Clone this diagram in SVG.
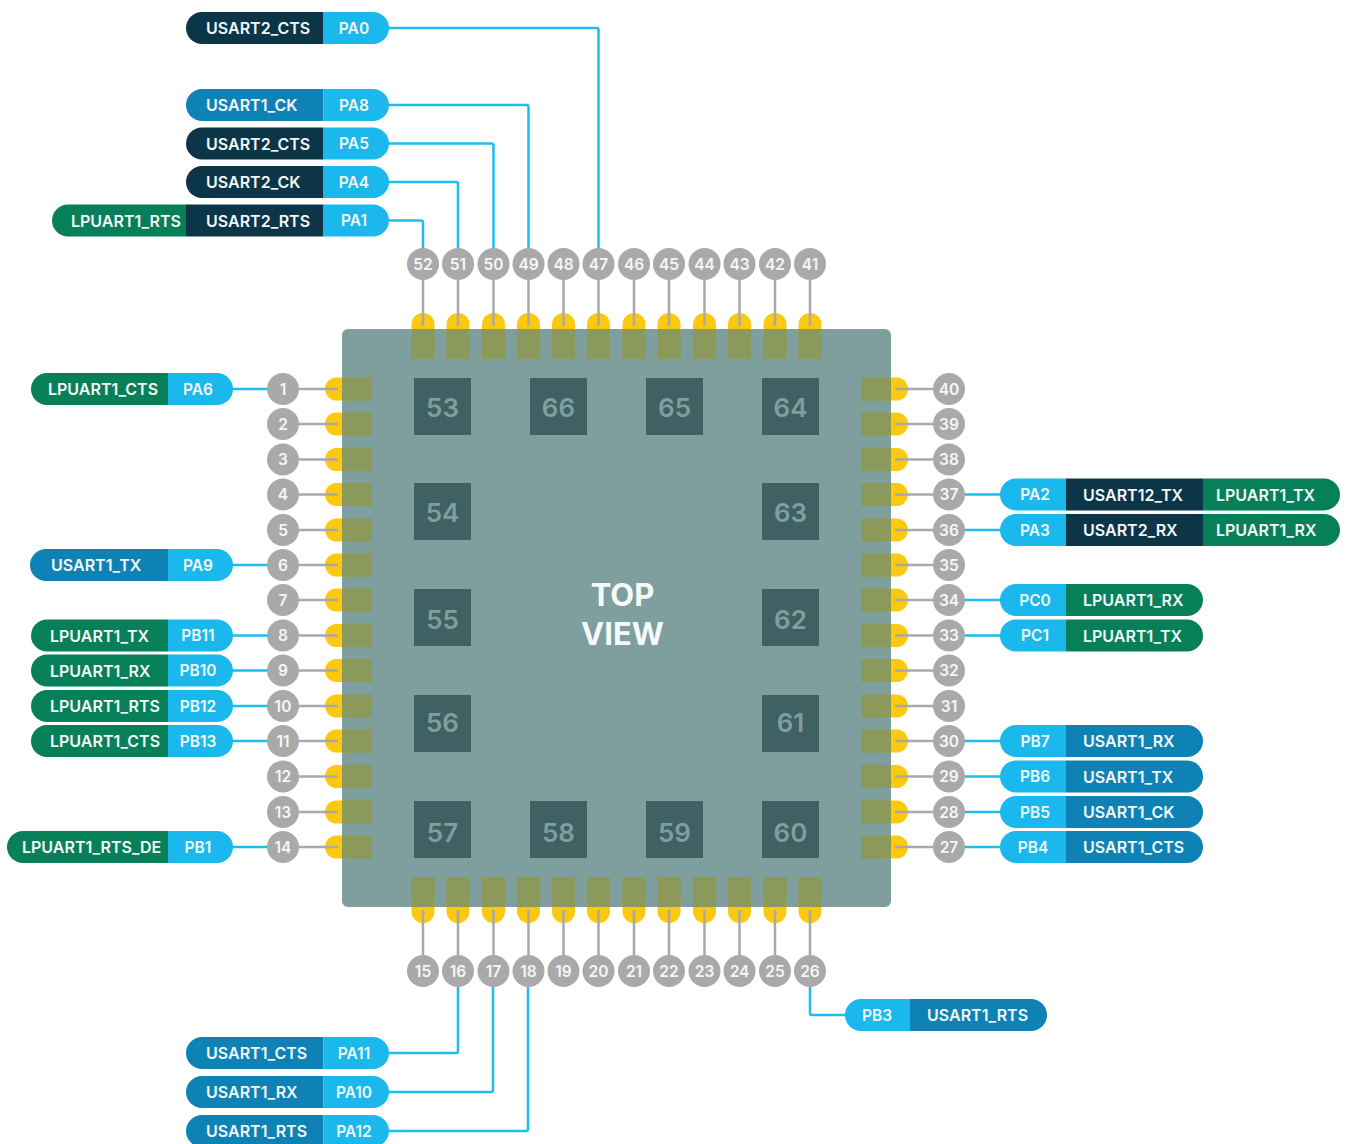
<svg xmlns="http://www.w3.org/2000/svg" width="1348" height="1144" viewBox="0 0 1348 1144">
<style>
text{font-family:Inter,"Noto Sans","Liberation Sans",sans-serif;dominant-baseline:central}
.pin{fill:#a9a9a9}
.n{fill:#f6f6f6;font-size:15.5px;font-weight:600;text-anchor:middle}
.t{fill:#f2f8f8;font-size:16px;font-weight:600}
.p{fill:#f2f8f8;font-size:15.5px;font-weight:600;text-anchor:middle}
.c{fill:#1ab8ec}.d{fill:#0c3547}.g{fill:#078059}.m{fill:#0f82b5}
.y{fill:#fdc90e}.o{fill:#8b9a5a}
.sq{fill:#3f6164}
.sn{fill:#7f9f9f;font-size:26px;font-weight:600;text-anchor:middle}
.tv{fill:#f6fafa;font-size:31px;font-weight:700;text-anchor:middle}
.gl{fill:none;stroke:#a9a9a9;stroke-width:2.5}
.bl{fill:none;stroke:#1dbdee;stroke-width:2.5;stroke-linejoin:round}
</style>
<defs>
<g id="pT"><rect class="y" x="-11.5" y="313" width="23" height="32" rx="11.5"/><rect class="o" x="-11.75" y="329" width="23.5" height="30"/></g>
<g id="pB"><rect class="y" x="-11.5" y="891" width="23" height="32" rx="11.5"/><rect class="o" x="-11.75" y="877" width="23.5" height="30"/></g>
<g id="pL"><rect class="y" x="325" y="-11.5" width="32" height="23" rx="11.5"/><rect class="o" x="342" y="-11.75" width="30" height="23.5"/></g>
<g id="pR"><rect class="y" x="876" y="-11.5" width="32" height="23" rx="11.5"/><rect class="o" x="861" y="-11.75" width="30" height="23.5"/></g>
</defs>
<g id="chip">
<rect x="342" y="329" width="549" height="578" rx="6" fill="#7f9f9f"/>
<text class="tv" x="622.500" y="594">TOP</text>
<text class="tv" x="622.500" y="633">VIEW</text>
</g>
<g id="pads">
<use href="#pT" x="423"/><use href="#pT" x="458"/><use href="#pT" x="493.5"/><use href="#pT" x="528.5"/><use href="#pT" x="563.5"/><use href="#pT" x="598.5"/><use href="#pT" x="634"/><use href="#pT" x="669"/><use href="#pT" x="704.5"/><use href="#pT" x="739.5"/><use href="#pT" x="775"/><use href="#pT" x="810"/>
<use href="#pB" x="423"/><use href="#pB" x="458"/><use href="#pB" x="493.5"/><use href="#pB" x="528.5"/><use href="#pB" x="563.5"/><use href="#pB" x="598.5"/><use href="#pB" x="634"/><use href="#pB" x="669"/><use href="#pB" x="704.5"/><use href="#pB" x="739.5"/><use href="#pB" x="775"/><use href="#pB" x="810"/>
<use href="#pL" y="389"/><use href="#pL" y="424"/><use href="#pL" y="459.5"/><use href="#pL" y="494.5"/><use href="#pL" y="530"/><use href="#pL" y="565"/><use href="#pL" y="600"/><use href="#pL" y="635.5"/><use href="#pL" y="670.5"/><use href="#pL" y="706"/><use href="#pL" y="741"/><use href="#pL" y="776.5"/><use href="#pL" y="812"/><use href="#pL" y="847"/>
<use href="#pR" y="389"/><use href="#pR" y="424"/><use href="#pR" y="459.5"/><use href="#pR" y="494.5"/><use href="#pR" y="530"/><use href="#pR" y="565"/><use href="#pR" y="600"/><use href="#pR" y="635.5"/><use href="#pR" y="670.5"/><use href="#pR" y="706"/><use href="#pR" y="741"/><use href="#pR" y="776.5"/><use href="#pR" y="812"/><use href="#pR" y="847"/>
</g>
<g id="epads">
<g id="pad-53"><rect class="sq" x="414" y="378" width="57" height="57"/><text class="sn" x="442.500" y="407">53</text></g>
<g id="pad-66"><rect class="sq" x="530" y="378" width="57" height="57"/><text class="sn" x="558.500" y="407">66</text></g>
<g id="pad-65"><rect class="sq" x="646" y="378" width="57" height="57"/><text class="sn" x="674.500" y="407">65</text></g>
<g id="pad-64"><rect class="sq" x="762" y="378" width="57" height="57"/><text class="sn" x="790.500" y="407">64</text></g>
<g id="pad-54"><rect class="sq" x="414" y="483" width="57" height="57"/><text class="sn" x="442.500" y="512">54</text></g>
<g id="pad-63"><rect class="sq" x="762" y="483" width="57" height="57"/><text class="sn" x="790.500" y="512">63</text></g>
<g id="pad-55"><rect class="sq" x="414" y="589" width="57" height="57"/><text class="sn" x="442.500" y="619">55</text></g>
<g id="pad-62"><rect class="sq" x="762" y="589" width="57" height="57"/><text class="sn" x="790.500" y="619">62</text></g>
<g id="pad-56"><rect class="sq" x="414" y="695" width="57" height="57"/><text class="sn" x="442.500" y="722">56</text></g>
<g id="pad-61"><rect class="sq" x="762" y="695" width="57" height="57"/><text class="sn" x="790.500" y="722">61</text></g>
<g id="pad-57"><rect class="sq" x="414" y="801" width="57" height="57"/><text class="sn" x="442.500" y="832">57</text></g>
<g id="pad-58"><rect class="sq" x="530" y="801" width="57" height="57"/><text class="sn" x="558.500" y="832">58</text></g>
<g id="pad-59"><rect class="sq" x="646" y="801" width="57" height="57"/><text class="sn" x="674.500" y="832">59</text></g>
<g id="pad-60"><rect class="sq" x="762" y="801" width="57" height="57"/><text class="sn" x="790.500" y="832">60</text></g>
</g>
<g id="connectors">
<path class="gl" d="M423 280V326M458 280V326M493.5 280V326M528.5 280V326M563.5 280V326M598.5 280V326M634 280V326M669 280V326M704.5 280V326M739.5 280V326M775 280V326M810 280V326M423 910V955M458 910V955M493.5 910V955M528.5 910V955M563.5 910V955M598.5 910V955M634 910V955M669 910V955M704.5 910V955M739.5 910V955M775 910V955M810 910V955M299 389H338M299 424H338M299 459.5H338M299 494.5H338M299 530H338M299 565H338M299 600H338M299 635.5H338M299 670.5H338M299 706H338M299 741H338M299 776.5H338M299 812H338M299 847H338M895 389H933M895 424H933M895 459.5H933M895 494.5H933M895 530H933M895 565H933M895 600H933M895 635.5H933M895 670.5H933M895 706H933M895 741H933M895 776.5H933M895 812H933M895 847H933"/>
<path class="bl" d="M388 28H596.500Q598.500 28 598.500 30V249M388 105H526.500Q528.500 105 528.500 107V249M388 143.500H491.500Q493.500 143.500 493.500 145.500V249M388 182H456Q458 182 458 184V249M388 220.500H421Q423 220.500 423 222.500V249"/>
<path class="bl" d="M232 389H268M232 565H268M232 635.500H268M232 670.500H268M232 706H268M232 741H268M232 847H268M965 494.500H1001M965 530H1001M965 600H1001M965 635.500H1001M965 741H1001M965 776.500H1001M965 812H1001M965 847H1001"/>
<path class="bl" d="M810 987V1013Q810 1015 812 1015H846M458 987V1051Q458 1053 456 1053H388M493 987V1090Q493 1092 491 1092H388M528 987V1129Q528 1131 526 1131H388"/>
</g>
<g id="pins">
<g id="pin-52"><circle class="pin" cx="423" cy="264" r="16"/><text class="n" x="423" y="264">52</text></g>
<g id="pin-51"><circle class="pin" cx="458" cy="264" r="16"/><text class="n" x="458" y="264">51</text></g>
<g id="pin-50"><circle class="pin" cx="493.500" cy="264" r="16"/><text class="n" x="493.500" y="264">50</text></g>
<g id="pin-49"><circle class="pin" cx="528.500" cy="264" r="16"/><text class="n" x="528.500" y="264">49</text></g>
<g id="pin-48"><circle class="pin" cx="563.500" cy="264" r="16"/><text class="n" x="563.500" y="264">48</text></g>
<g id="pin-47"><circle class="pin" cx="598.500" cy="264" r="16"/><text class="n" x="598.500" y="264">47</text></g>
<g id="pin-46"><circle class="pin" cx="634" cy="264" r="16"/><text class="n" x="634" y="264">46</text></g>
<g id="pin-45"><circle class="pin" cx="669" cy="264" r="16"/><text class="n" x="669" y="264">45</text></g>
<g id="pin-44"><circle class="pin" cx="704.500" cy="264" r="16"/><text class="n" x="704.500" y="264">44</text></g>
<g id="pin-43"><circle class="pin" cx="739.500" cy="264" r="16"/><text class="n" x="739.500" y="264">43</text></g>
<g id="pin-42"><circle class="pin" cx="775" cy="264" r="16"/><text class="n" x="775" y="264">42</text></g>
<g id="pin-41"><circle class="pin" cx="810" cy="264" r="16"/><text class="n" x="810" y="264">41</text></g>
<g id="pin-15"><circle class="pin" cx="423" cy="971" r="16"/><text class="n" x="423" y="971">15</text></g>
<g id="pin-16"><circle class="pin" cx="458" cy="971" r="16"/><text class="n" x="458" y="971">16</text></g>
<g id="pin-17"><circle class="pin" cx="493.500" cy="971" r="16"/><text class="n" x="493.500" y="971">17</text></g>
<g id="pin-18"><circle class="pin" cx="528.500" cy="971" r="16"/><text class="n" x="528.500" y="971">18</text></g>
<g id="pin-19"><circle class="pin" cx="563.500" cy="971" r="16"/><text class="n" x="563.500" y="971">19</text></g>
<g id="pin-20"><circle class="pin" cx="598.500" cy="971" r="16"/><text class="n" x="598.500" y="971">20</text></g>
<g id="pin-21"><circle class="pin" cx="634" cy="971" r="16"/><text class="n" x="634" y="971">21</text></g>
<g id="pin-22"><circle class="pin" cx="669" cy="971" r="16"/><text class="n" x="669" y="971">22</text></g>
<g id="pin-23"><circle class="pin" cx="704.500" cy="971" r="16"/><text class="n" x="704.500" y="971">23</text></g>
<g id="pin-24"><circle class="pin" cx="739.500" cy="971" r="16"/><text class="n" x="739.500" y="971">24</text></g>
<g id="pin-25"><circle class="pin" cx="775" cy="971" r="16"/><text class="n" x="775" y="971">25</text></g>
<g id="pin-26"><circle class="pin" cx="810" cy="971" r="16"/><text class="n" x="810" y="971">26</text></g>
<g id="pin-1"><circle class="pin" cx="283" cy="389" r="16"/><text class="n" x="283" y="389">1</text></g>
<g id="pin-2"><circle class="pin" cx="283" cy="424" r="16"/><text class="n" x="283" y="424">2</text></g>
<g id="pin-3"><circle class="pin" cx="283" cy="459.500" r="16"/><text class="n" x="283" y="459.500">3</text></g>
<g id="pin-4"><circle class="pin" cx="283" cy="494.500" r="16"/><text class="n" x="283" y="494.500">4</text></g>
<g id="pin-5"><circle class="pin" cx="283" cy="530" r="16"/><text class="n" x="283" y="530">5</text></g>
<g id="pin-6"><circle class="pin" cx="283" cy="565" r="16"/><text class="n" x="283" y="565">6</text></g>
<g id="pin-7"><circle class="pin" cx="283" cy="600" r="16"/><text class="n" x="283" y="600">7</text></g>
<g id="pin-8"><circle class="pin" cx="283" cy="635.500" r="16"/><text class="n" x="283" y="635.500">8</text></g>
<g id="pin-9"><circle class="pin" cx="283" cy="670.500" r="16"/><text class="n" x="283" y="670.500">9</text></g>
<g id="pin-10"><circle class="pin" cx="283" cy="706" r="16"/><text class="n" x="283" y="706">10</text></g>
<g id="pin-11"><circle class="pin" cx="283" cy="741" r="16"/><text class="n" x="283" y="741">11</text></g>
<g id="pin-12"><circle class="pin" cx="283" cy="776.500" r="16"/><text class="n" x="283" y="776.500">12</text></g>
<g id="pin-13"><circle class="pin" cx="283" cy="812" r="16"/><text class="n" x="283" y="812">13</text></g>
<g id="pin-14"><circle class="pin" cx="283" cy="847" r="16"/><text class="n" x="283" y="847">14</text></g>
<g id="pin-40"><circle class="pin" cx="949" cy="389" r="16"/><text class="n" x="949" y="389">40</text></g>
<g id="pin-39"><circle class="pin" cx="949" cy="424" r="16"/><text class="n" x="949" y="424">39</text></g>
<g id="pin-38"><circle class="pin" cx="949" cy="459.500" r="16"/><text class="n" x="949" y="459.500">38</text></g>
<g id="pin-37"><circle class="pin" cx="949" cy="494.500" r="16"/><text class="n" x="949" y="494.500">37</text></g>
<g id="pin-36"><circle class="pin" cx="949" cy="530" r="16"/><text class="n" x="949" y="530">36</text></g>
<g id="pin-35"><circle class="pin" cx="949" cy="565" r="16"/><text class="n" x="949" y="565">35</text></g>
<g id="pin-34"><circle class="pin" cx="949" cy="600" r="16"/><text class="n" x="949" y="600">34</text></g>
<g id="pin-33"><circle class="pin" cx="949" cy="635.500" r="16"/><text class="n" x="949" y="635.500">33</text></g>
<g id="pin-32"><circle class="pin" cx="949" cy="670.500" r="16"/><text class="n" x="949" y="670.500">32</text></g>
<g id="pin-31"><circle class="pin" cx="949" cy="706" r="16"/><text class="n" x="949" y="706">31</text></g>
<g id="pin-30"><circle class="pin" cx="949" cy="741" r="16"/><text class="n" x="949" y="741">30</text></g>
<g id="pin-29"><circle class="pin" cx="949" cy="776.500" r="16"/><text class="n" x="949" y="776.500">29</text></g>
<g id="pin-28"><circle class="pin" cx="949" cy="812" r="16"/><text class="n" x="949" y="812">28</text></g>
<g id="pin-27"><circle class="pin" cx="949" cy="847" r="16"/><text class="n" x="949" y="847">27</text></g>
</g>
<g id="labels">
<g id="lab-PA0"><path class="d" d="M323.500 12H202a16 16 0 0 0 0 32H323.500z"/><path class="c" d="M323.500 12H373a16 16 0 0 1 0 32H323.500z"/><text class="t" x="206" y="28">USART2_CTS</text><text class="p" x="354" y="28">PA0</text></g>
<g id="lab-PA8"><path class="m" d="M323.500 89H202a16 16 0 0 0 0 32H323.500z"/><path class="c" d="M323.500 89H373a16 16 0 0 1 0 32H323.500z"/><text class="t" x="206" y="105">USART1_CK</text><text class="p" x="354" y="105">PA8</text></g>
<g id="lab-PA5"><path class="d" d="M323.500 127.500H202a16 16 0 0 0 0 32H323.500z"/><path class="c" d="M323.500 127.500H373a16 16 0 0 1 0 32H323.500z"/><text class="t" x="206" y="143.500">USART2_CTS</text><text class="p" x="354" y="143.500">PA5</text></g>
<g id="lab-PA4"><path class="d" d="M323.500 166H202a16 16 0 0 0 0 32H323.500z"/><path class="c" d="M323.500 166H373a16 16 0 0 1 0 32H323.500z"/><text class="t" x="206" y="182">USART2_CK</text><text class="p" x="354" y="182">PA4</text></g>
<g id="lab-PA1"><path class="g" d="M186 204.500H68a16 16 0 0 0 0 32H186z"/><rect class="d" x="186" y="204.500" width="137.500" height="32"/><path class="c" d="M323.500 204.500H373a16 16 0 0 1 0 32H323.500z"/><text class="t" x="71" y="220.500">LPUART1_RTS</text><text class="t" x="206" y="220.500">USART2_RTS</text><text class="p" x="354" y="220.500">PA1</text></g>
<g id="lab-PA6"><path class="g" d="M168 373H47a16 16 0 0 0 0 32H168z"/><path class="c" d="M168 373H217a16 16 0 0 1 0 32H168z"/><text class="t" x="48" y="389">LPUART1_CTS</text><text class="p" x="198" y="389">PA6</text></g>
<g id="lab-PA9"><path class="m" d="M168 549H46a16 16 0 0 0 0 32H168z"/><path class="c" d="M168 549H217a16 16 0 0 1 0 32H168z"/><text class="t" x="51" y="565">USART1_TX</text><text class="p" x="198" y="565">PA9</text></g>
<g id="lab-PB11"><path class="g" d="M168 619.500H47a16 16 0 0 0 0 32H168z"/><path class="c" d="M168 619.500H217a16 16 0 0 1 0 32H168z"/><text class="t" x="50" y="635.500">LPUART1_TX</text><text class="p" x="198" y="635.500">PB11</text></g>
<g id="lab-PB10"><path class="g" d="M168 654.500H47a16 16 0 0 0 0 32H168z"/><path class="c" d="M168 654.500H217a16 16 0 0 1 0 32H168z"/><text class="t" x="50" y="670.500">LPUART1_RX</text><text class="p" x="198" y="670.500">PB10</text></g>
<g id="lab-PB12"><path class="g" d="M168 690H47a16 16 0 0 0 0 32H168z"/><path class="c" d="M168 690H217a16 16 0 0 1 0 32H168z"/><text class="t" x="50" y="706">LPUART1_RTS</text><text class="p" x="198" y="706">PB12</text></g>
<g id="lab-PB13"><path class="g" d="M168 725H47a16 16 0 0 0 0 32H168z"/><path class="c" d="M168 725H217a16 16 0 0 1 0 32H168z"/><text class="t" x="50" y="741">LPUART1_CTS</text><text class="p" x="198" y="741">PB13</text></g>
<g id="lab-PB1"><path class="g" d="M168 831H23a16 16 0 0 0 0 32H168z"/><path class="c" d="M168 831H217a16 16 0 0 1 0 32H168z"/><text class="t" x="22" y="847">LPUART1_RTS_DE</text><text class="p" x="198" y="847">PB1</text></g>
<g id="lab-PA2"><path class="c" d="M1066 478.500H1016a16 16 0 0 0 0 32H1066z"/><rect class="d" x="1066" y="478.500" width="137" height="32"/><path class="g" d="M1203 478.500H1324a16 16 0 0 1 0 32H1203z"/><text class="p" x="1035" y="494.500">PA2</text><text class="t" x="1083" y="494.500">USART12_TX</text><text class="t" x="1216" y="494.500">LPUART1_TX</text></g>
<g id="lab-PA3"><path class="c" d="M1066 514H1016a16 16 0 0 0 0 32H1066z"/><rect class="d" x="1066" y="514" width="137" height="32"/><path class="g" d="M1203 514H1324a16 16 0 0 1 0 32H1203z"/><text class="p" x="1035" y="530">PA3</text><text class="t" x="1083" y="530">USART2_RX</text><text class="t" x="1216" y="530">LPUART1_RX</text></g>
<g id="lab-PC0"><path class="c" d="M1066 584H1016a16 16 0 0 0 0 32H1066z"/><path class="g" d="M1066 584H1187a16 16 0 0 1 0 32H1066z"/><text class="p" x="1035" y="600">PC0</text><text class="t" x="1083" y="600">LPUART1_RX</text></g>
<g id="lab-PC1"><path class="c" d="M1066 619.500H1016a16 16 0 0 0 0 32H1066z"/><path class="g" d="M1066 619.500H1187a16 16 0 0 1 0 32H1066z"/><text class="p" x="1035" y="635.500">PC1</text><text class="t" x="1083" y="635.500">LPUART1_TX</text></g>
<g id="lab-PB7"><path class="c" d="M1066 725H1016a16 16 0 0 0 0 32H1066z"/><path class="m" d="M1066 725H1187a16 16 0 0 1 0 32H1066z"/><text class="p" x="1035" y="741">PB7</text><text class="t" x="1083" y="741">USART1_RX</text></g>
<g id="lab-PB6"><path class="c" d="M1066 760.500H1016a16 16 0 0 0 0 32H1066z"/><path class="m" d="M1066 760.500H1187a16 16 0 0 1 0 32H1066z"/><text class="p" x="1035" y="776.500">PB6</text><text class="t" x="1083" y="776.500">USART1_TX</text></g>
<g id="lab-PB5"><path class="c" d="M1066 796H1016a16 16 0 0 0 0 32H1066z"/><path class="m" d="M1066 796H1187a16 16 0 0 1 0 32H1066z"/><text class="p" x="1035" y="812">PB5</text><text class="t" x="1083" y="812">USART1_CK</text></g>
<g id="lab-PB4"><path class="c" d="M1066 831H1016a16 16 0 0 0 0 32H1066z"/><path class="m" d="M1066 831H1187a16 16 0 0 1 0 32H1066z"/><text class="p" x="1033" y="847">PB4</text><text class="t" x="1083" y="847">USART1_CTS</text></g>
<g id="lab-PB3"><path class="c" d="M910 999H861a16 16 0 0 0 0 32H910z"/><path class="m" d="M910 999H1031a16 16 0 0 1 0 32H910z"/><text class="p" x="877" y="1015">PB3</text><text class="t" x="927" y="1015">USART1_RTS</text></g>
<g id="lab-PA11"><path class="m" d="M323.500 1037H202a16 16 0 0 0 0 32H323.500z"/><path class="c" d="M323.500 1037H373a16 16 0 0 1 0 32H323.500z"/><text class="t" x="206" y="1053">USART1_CTS</text><text class="p" x="354" y="1053">PA11</text></g>
<g id="lab-PA10"><path class="m" d="M323.500 1076H202a16 16 0 0 0 0 32H323.500z"/><path class="c" d="M323.500 1076H373a16 16 0 0 1 0 32H323.500z"/><text class="t" x="206" y="1092">USART1_RX</text><text class="p" x="354" y="1092">PA10</text></g>
<g id="lab-PA12"><path class="m" d="M323.500 1115H202a16 16 0 0 0 0 32H323.500z"/><path class="c" d="M323.500 1115H373a16 16 0 0 1 0 32H323.500z"/><text class="t" x="206" y="1131">USART1_RTS</text><text class="p" x="354" y="1131">PA12</text></g>
</g>
</svg>
